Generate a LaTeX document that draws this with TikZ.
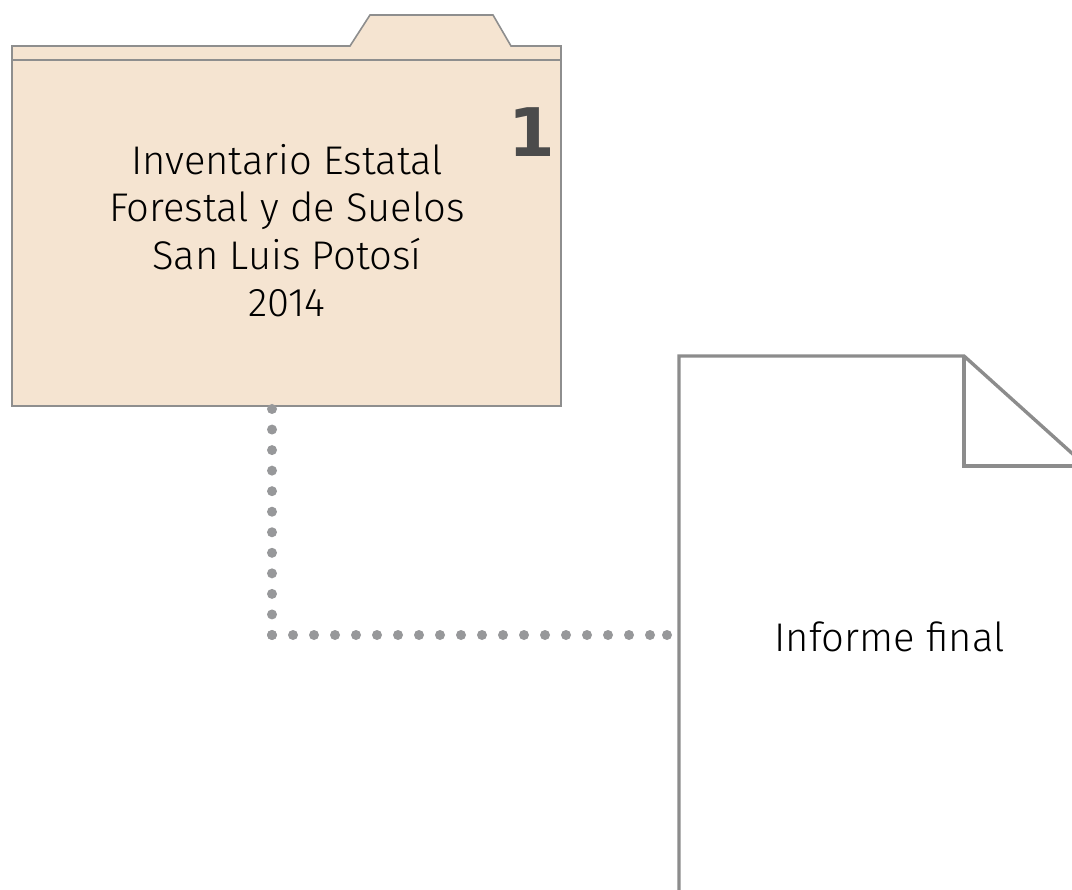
\documentclass[tikz,border=0pt]{standalone}
\usepackage{fontspec}
\setmainfont{Fira Sans}[UprightFont={* Light}]
\newfontfamily\numfont{DejaVu Sans}[UprightFont={* Bold}]
\definecolor{folderfill}{HTML}{F5E4D1}
\definecolor{folderline}{HTML}{8E8E8E}
\definecolor{docline}{HTML}{8C8C8C}
\definecolor{dotcol}{HTML}{97989A}
\definecolor{numcol}{HTML}{4B4B4B}
\tikzset{
  folderbox/.style={fill=folderfill, draw=folderline, line width=1.6pt, line join=miter},
  docbox/.style={draw=docline, line width=3.4pt, line join=miter},
  dotline/.style={draw=dotcol, line width=10pt, line cap=round},
  label/.style={font=\fontsize{40}{47.5}\selectfont, text=black, inner sep=0pt, align=center},
  numlabel/.style={font=\numfont\fontsize{67}{67}\selectfont, text=numcol, inner sep=0pt}
}
\begin{document}
\begin{tikzpicture}[x=1pt,y=-1pt]
\useasboundingbox (0,0) rectangle (1072,890);
% folder
\path[folderbox] (12,46) -- (350,46) -- (370,15) -- (493,15) -- (511,46) -- (561,46)
  -- (561,406) -- (12,406) -- cycle;
\draw[draw=folderline, line width=1.6pt] (12,60) -- (561,60);
\node[inner sep=0pt, minimum width=549pt, minimum height=346pt] (folder) at (286.5,233) {};
\node[label, anchor=base] (ftext) at (287,317)
  {Inventario Estatal\\Forestal y de Suelos\\San Luis Potosí\\2014};
\node[numlabel] (num) at (532,132.5) {1};
% document
\draw[docbox] (679,900) -- (679,356) -- (964,356) -- (1095,474);
\draw[docbox] (964,356) -- (964,466) -- (1095,466);
\coordinate (docin) at (679,635);
\node[label, anchor=base] (dtext) at (889.5,651) {Informe final};
% connector
\coordinate (c1) at (272,409);
\coordinate (corner) at (272,635);
\coordinate (c2) at (667,635);
\draw[dotline, dash pattern=on 0pt off 20.545pt] (c1) -- (corner);
\draw[dotline, dash pattern=on 0pt off 21pt] (corner) -- (c2);
\draw[dotline] (c2) -- (c2);
\end{tikzpicture}
\end{document}
